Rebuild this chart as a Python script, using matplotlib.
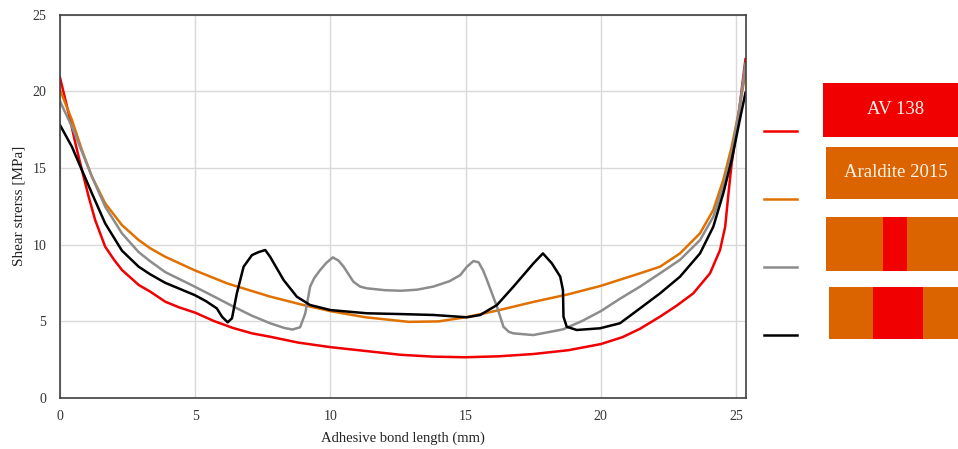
import matplotlib
matplotlib.use("Agg")
import matplotlib.pyplot as plt
from matplotlib.patches import Rectangle

plt.rcParams["font.family"] = ["Liberation Serif", "DejaVu Serif"]

# Shear stress distribution along the overlap, one curve per adhesive layout
RED_X = [0, 0.32, 0.57, 0.81, 1.06, 1.3, 1.67, 2.0, 2.29, 2.91, 3.34, 3.89, 4.4, 5.0,
         5.7, 6.4, 7.1, 7.77, 8.8, 10.0, 11.3, 12.6, 13.8, 15.0, 16.2, 17.5, 18.8, 20.0,
         20.8, 21.45, 22.19, 22.8, 23.42, 24.04, 24.41, 24.6, 24.72, 24.84, 25.03,
         25.21, 25.35]
RED_Y = [20.9, 18.56, 16.6, 14.86, 13.12, 11.6, 9.86, 9.0, 8.34, 7.36, 6.92, 6.27, 5.9,
         5.55, 5.0, 4.55, 4.2, 3.98, 3.6, 3.3, 3.05, 2.8, 2.68, 2.64, 2.7, 2.85, 3.1, 3.5,
         3.95, 4.5, 5.29, 6.0, 6.81, 8.12, 9.64, 11.16, 13.3, 15.3, 17.5, 20.1, 22.1]

ORANGE_X = [0, 0.44, 0.81, 1.18, 1.67, 2.29, 2.91, 3.34, 3.89, 5.0, 6.2, 7.77, 9.0, 10.0,
            11.3, 12.9, 14.0, 15.0, 16.2, 17.5, 18.8, 20.0, 21.45, 22.19, 22.93, 23.67,
            24.16, 24.53, 24.84, 25.09, 25.35]
ORANGE_Y = [20.1, 18.13, 16.17, 14.43, 12.69, 11.27, 10.29, 9.75, 9.2, 8.3, 7.45, 6.6,
            6.05, 5.65, 5.25, 4.95, 4.98, 5.25, 5.7, 6.25, 6.75, 7.3, 8.12, 8.55, 9.42,
            10.73, 12.25, 14.21, 16.38, 18.56, 21.2]

GRAY_X = [0, 0.44, 0.81, 1.18, 1.67, 2.29, 2.91, 3.34, 3.89, 4.98, 5.7, 6.42, 7.1, 7.77,
          8.3, 8.6, 8.88, 9.07, 9.25, 9.4, 9.62, 9.85, 10.09, 10.3, 10.49, 10.85, 11.1,
          11.35, 12.0, 12.6, 13.2, 13.8, 14.4, 14.8, 15.05, 15.29, 15.48, 15.65, 15.79,
          16.16, 16.4, 16.6, 16.77, 17.5, 18.6, 19.3, 20.0, 20.7, 21.45, 22.19, 22.93,
          23.67, 24.16, 24.53, 24.84, 25.14, 25.35]
GRAY_Y = [19.35, 17.69, 16.06, 14.43, 12.47, 10.73, 9.5, 8.9, 8.2, 7.25, 6.6, 5.94,
          5.35, 4.86, 4.55, 4.45, 4.6, 5.5, 7.25, 7.8, 8.33, 8.8, 9.16, 8.95, 8.55, 7.57,
          7.25, 7.14, 7.02, 6.98, 7.05, 7.25, 7.6, 8.0, 8.55, 8.92, 8.84, 8.3, 7.68,
          5.94, 4.63, 4.3, 4.2, 4.09, 4.46, 5.0, 5.65, 6.45, 7.25, 8.12, 9.0,
          10.29, 11.81, 13.77, 15.95, 19.0, 21.8]

BLACK_X = [0, 0.44, 0.81, 1.18, 1.67, 2.29, 2.91, 3.34, 3.89, 4.98, 5.4, 5.8, 5.99, 6.2,
           6.36, 6.54, 6.79, 7.1, 7.34, 7.59, 7.77, 8.0, 8.27, 8.76, 9.25, 10.0, 11.35,
           12.58, 13.81, 15.05, 15.54, 16.16, 16.77, 17.51, 17.86, 18.19, 18.5, 18.6,
           18.62, 18.74, 19.11, 19.97, 20.71, 21.45, 22.19, 22.93, 23.67, 24.16, 24.53,
           24.84, 25.14, 25.35]
BLACK_Y = [17.8, 16.38, 14.86, 13.34, 11.38, 9.6, 8.55, 8.05, 7.5, 6.7, 6.3, 5.83, 5.29,
           4.92, 5.18, 6.81, 8.55, 9.31, 9.5, 9.64, 9.2, 8.5, 7.68, 6.59, 6.05, 5.72, 5.51,
           5.46, 5.4, 5.25, 5.4, 6.05, 7.25, 8.77, 9.42, 8.77, 7.9, 7.03,
           5.29, 4.63, 4.42, 4.53, 4.86, 5.83, 6.81, 7.9, 9.42, 11.16, 13.34,
           15.52, 18.13, 19.9]

X_TICKS = [0, 5, 10, 15, 20, 25]
Y_TICKS = [0, 5, 10, 15, 20, 25]
BOX_LABELS = ["AV 138", "Araldite 2015", "", ""]

RED = "#F00000"
ORANGE = "#E07000"
BOX_ORANGE = "#DC6400"
GRAY = "#8C8C8C"
BLACK = "#000000"

W, H = 958, 449
fig = plt.figure(figsize=(W / 100, H / 100), dpi=100)
ax = fig.add_axes([60 / W, (H - 397.7) / H, (746 - 60) / W, (397.7 - 14.7) / H])

series = [(RED_X, RED_Y, RED), (ORANGE_X, ORANGE_Y, ORANGE),
          (GRAY_X, GRAY_Y, GRAY), (BLACK_X, BLACK_Y, BLACK)]
for xs, ys, color in series:
    ax.plot(xs, ys, color=color, linewidth=1.8, solid_joinstyle="round")

ax.set_xlim(0, 25.37)
ax.set_ylim(0, 25)
ax.set_xticks(X_TICKS)
ax.set_yticks(Y_TICKS)
ax.grid(True, color="#D9D9D9", linewidth=1.0)
ax.set_axisbelow(True)
ax.tick_params(length=0, labelsize=10, colors="#333333")
ax.tick_params(axis="x", pad=9)
ax.tick_params(axis="y", pad=10)
for spine in ax.spines.values():
    spine.set_color("#404040")
    spine.set_linewidth(1.2)
ax.set_xlabel("Adhesive bond length (mm)", fontsize=10.5, color="#222222", labelpad=6)
ax.set_ylabel("Shear strerss [MPa]", fontsize=11, color="#222222", labelpad=5)

# legend panel drawn in pixel coordinates of the whole figure
leg = fig.add_axes([0, 0, 1, 1])
leg.set_xlim(0, W)
leg.set_ylim(H, 0)
leg.axis("off")

line_rows = [131.3, 199.0, 266.7, 335.0]
for row, (_, _, color) in zip(line_rows, series):
    leg.plot([764, 797], [row, row], color=color, linewidth=1.8)

boxes = [(822.7, 83.3, 53.4), (826, 146.7, 52.0), (826, 217.3, 53.4), (828.7, 286.7, 52.6)]
box_fill = [RED, BOX_ORANGE, BOX_ORANGE, BOX_ORANGE]
inserts = [None, None, (883.3, 906.7), (873.3, 923.3)]
for (x0, y0, h), fill, ins, text in zip(boxes, box_fill, inserts, BOX_LABELS):
    leg.add_patch(Rectangle((x0, y0), W + 5 - x0, h, facecolor=fill, edgecolor="none"))
    if ins is not None:
        leg.add_patch(Rectangle((ins[0], y0), ins[1] - ins[0], h, facecolor=RED,
                                edgecolor="none"))
    if text:
        leg.text(896, y0 + h / 2, text, color="#FFF4EA", fontsize=13.5,
                 ha="center", va="center")

fig.savefig("out.png", dpi=100)
